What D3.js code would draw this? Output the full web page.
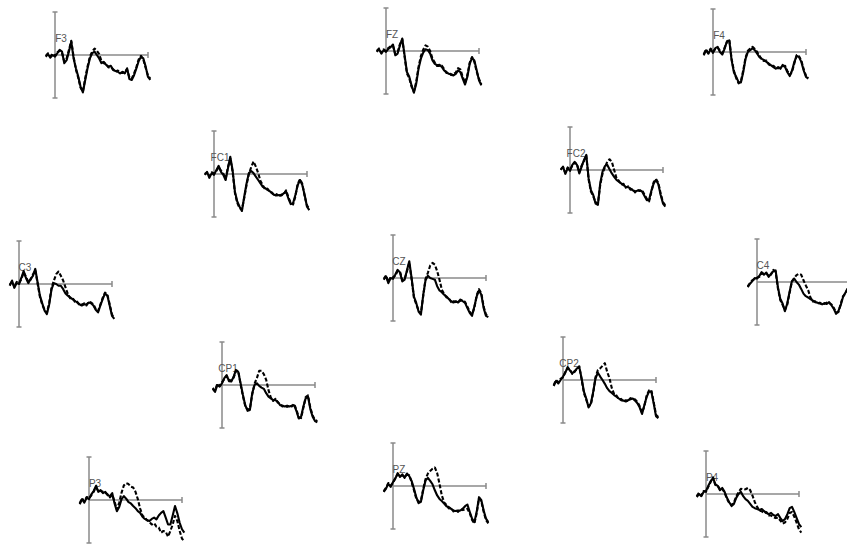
<!DOCTYPE html>
<html>
<head>
<meta charset="utf-8">
<script src="https://cdn.jsdelivr.net/npm/d3@7/dist/d3.min.js"></script>
<style>
  body { margin: 0; background: #fff; }
  svg { display: block; }
</style>
</head>
<body>
<svg id="chart" width="847" height="545"></svg>
<script>
// Thời điểm lấy mẫu (ms)
const times = [-100,-75,-50,-25,0,25,50,75,100,125,150,175,200,225,250,275,300,325,350,375,400,425,450,475,
  500,525,550,575,600,625,650,675,700,725,750,775,800,825,850,875,900,925,950,975,1000,1025];

const channels = ["F3","FZ","F4","FC1","FC2","C3","CZ","C4","CP1","CP2","P3","PZ","P4"];

// Biên độ (µV) - điều kiện 1 (nét liền)
const F3_a  = [-0.4,0.2,-0.6,0.0,-0.4,0.4,1.2,0.8,-1.9,-1.2,0.8,3.1,-0.8,-3.1,-5.0,-7.4,-8.7,-5.8,-3.1,-0.8,0.4,0.8,0.0,-0.8,-1.9,-1.6,-2.3,-2.7,-2.5,-3.5,-3.7,-3.9,-4.3,-3.9,-4.3,-3.1,-5.6,-5.8,-4.7,-3.1,-1.4,-0.4,-0.8,-2.7,-5.1,-5.8];
const FZ_a  = [-0.2,0.4,-0.6,0.2,-0.2,0.5,0.9,1.5,-1.0,-0.6,1.3,2.9,-1.0,-4.9,-6.0,-8.0,-9.7,-7.6,-4.1,-1.8,-0.4,0.4,0.2,-0.6,-2.2,-3.0,-3.3,-3.2,-3.7,-4.5,-4.9,-5.3,-5.4,-5.7,-5.3,-4.5,-4.9,-6.4,-7.8,-6.0,-3.0,-1.6,-2.2,-4.5,-6.8,-8.0];
const F4_a  = [-0.8,0.4,-0.4,0.6,-0.2,0.9,1.2,0.0,-0.6,0.8,2.5,2.7,-1.9,-4.7,-5.8,-7.0,-7.1,-4.7,-1.6,0.0,0.4,0.9,0.4,-0.4,-1.2,-1.6,-1.9,-2.3,-2.7,-3.1,-3.5,-3.9,-3.5,-3.9,-3.0,-3.5,-4.7,-5.6,-4.3,-2.3,-0.9,-1.2,-2.3,-4.3,-5.8,-6.2];
const FC1_a = [-0.2,0.5,-0.9,0.2,-0.2,0.9,1.9,0.5,-0.2,-1.4,1.3,4.0,0.9,-4.1,-6.4,-7.6,-8.6,-5.3,-2.2,0.2,0.7,0.2,-0.6,-1.4,-2.2,-3.0,-3.3,-3.7,-4.0,-4.5,-4.9,-5.0,-4.9,-5.0,-4.5,-4.1,-5.7,-7.0,-6.8,-4.9,-2.6,-1.4,-2.6,-4.9,-7.6,-8.4];
const FC2_a = [0.0,0.8,-0.9,0.4,-0.2,1.2,1.9,1.2,-0.8,0.8,2.3,3.5,-1.9,-4.7,-5.8,-7.8,-8.1,-3.1,-0.4,0.9,1.2,0.2,-0.8,-1.6,-2.3,-2.7,-3.1,-3.5,-3.9,-4.0,-4.3,-4.7,-5.0,-4.8,-4.7,-5.0,-6.0,-7.0,-7.0,-4.8,-3.1,-2.3,-3.3,-5.8,-7.8,-8.5];
const C3_a  = [-0.4,0.8,-0.9,0.2,0.0,1.4,3.0,1.4,0.2,1.2,1.9,3.5,0.4,-2.7,-4.5,-6.2,-7.0,-4.7,-1.2,0.2,0.0,-0.4,-0.4,-1.2,-2.2,-2.7,-3.1,-3.5,-3.9,-4.3,-4.7,-5.0,-4.7,-4.8,-4.3,-4.5,-5.0,-6.0,-6.6,-5.0,-3.5,-2.2,-2.7,-5.0,-7.4,-8.1];
const CZ_a  = [-0.4,0.4,-1.2,0.0,-0.2,0.8,1.9,1.3,-0.8,-0.4,1.8,3.9,0.0,-4.3,-5.8,-7.8,-8.5,-3.9,-0.5,0.5,0.0,-0.2,-0.4,-1.9,-2.9,-3.3,-3.9,-4.3,-4.9,-5.4,-5.7,-5.4,-5.7,-5.0,-5.4,-5.8,-7.0,-8.1,-8.8,-6.6,-4.3,-2.9,-3.9,-7.0,-8.8,-9.1];
const C4_a  = [-1.2,-0.4,0.2,0.9,0.8,1.4,2.3,1.7,2.2,1.2,1.9,2.5,2.7,-1.2,-3.9,-5.0,-6.8,-5.0,-2.3,0.2,0.8,0.0,-0.6,-1.6,-2.7,-3.3,-3.6,-4.0,-4.3,-4.7,-4.8,-5.0,-5.2,-4.9,-5.1,-4.7,-5.4,-6.2,-7.4,-6.8,-5.4,-3.5,-2.5,-1.6,-3.1,-5.0];
const CP1_a = [-0.9,-1.6,0.0,-0.4,0.4,1.6,2.3,0.9,0.8,1.9,3.5,3.0,0.4,-2.3,-4.7,-6.0,-5.8,-1.9,0.0,0.4,-0.2,-0.6,-0.9,-1.9,-2.7,-3.1,-3.5,-3.5,-3.9,-4.7,-4.8,-5.0,-4.8,-5.0,-4.8,-4.7,-6.0,-7.8,-7.4,-5.0,-3.1,-2.7,-5.6,-7.4,-8.4,-8.7];
const CP2_a = [-1.4,-0.2,-0.8,0.0,0.8,1.7,3.0,2.2,1.6,1.9,2.7,3.0,0.4,-2.7,-4.3,-6.4,-5.4,-2.7,0.4,1.7,0.8,0.0,-0.9,-1.9,-2.6,-3.0,-3.5,-3.9,-4.3,-4.7,-4.8,-5.0,-4.7,-4.5,-4.3,-4.8,-5.4,-6.4,-7.9,-5.8,-3.9,-2.7,-2.7,-5.4,-8.4,-8.9];
const P3_a  = [-1.0,0.2,-0.6,0.5,0.2,1.3,2.1,3.3,1.9,2.3,1.6,1.9,1.1,0.9,1.6,-0.8,-2.6,-1.6,0.2,0.9,0.3,-0.5,-0.8,-1.4,-1.9,-2.6,-3.0,-3.9,-4.4,-4.7,-4.9,-4.4,-4.1,-4.5,-3.6,-3.0,-2.6,-4.1,-5.7,-5.7,-3.6,-1.4,-3.1,-5.3,-6.8,-7.6];
const PZ_a  = [-1.4,-0.6,0.5,-0.2,0.9,1.7,3.0,2.1,2.7,1.9,2.9,2.3,1.2,-0.6,-2.6,-4.0,-3.7,-1.0,1.3,1.9,1.2,0.4,-1.0,-2.2,-3.0,-3.5,-4.1,-4.7,-4.9,-5.3,-5.7,-5.8,-5.7,-5.7,-5.3,-4.7,-4.3,-6.0,-7.6,-8.4,-6.0,-2.6,-3.3,-5.7,-7.6,-8.4];
const P4_a  = [-0.7,0.0,-0.5,0.5,0.7,1.9,3.0,3.7,2.3,1.9,0.9,1.4,0.5,-0.9,-1.9,-2.8,-2.3,-0.9,0.0,0.5,-0.5,-1.2,-1.6,-2.3,-3.0,-3.3,-3.5,-3.7,-3.5,-4.0,-4.4,-4.7,-4.4,-4.9,-5.1,-4.7,-5.6,-6.3,-5.8,-4.7,-3.3,-3.0,-4.2,-5.6,-7.0,-7.7];

// Biên độ (µV) - điều kiện 2 (nét đứt)
const F3_b  = [-0.2,0.4,-0.3,0.3,-0.2,0.6,1.0,0.5,-1.5,-0.8,1.2,3.3,-0.4,-3.4,-5.3,-7.6,-8.5,-5.4,-2.7,-0.4,0.8,1.5,1.0,0.2,-1.4,-1.9,-2.1,-2.9,-2.8,-3.3,-3.9,-3.6,-4.1,-4.2,-3.8,-3.4,-5.2,-5.5,-4.3,-2.8,-1.0,-0.2,-1.1,-3.0,-4.8,-5.5];
const FZ_b  = [0.0,0.6,-0.4,0.4,0.0,0.7,1.1,1.2,-0.7,-0.3,1.6,2.7,-1.3,-5.2,-6.3,-8.3,-9.4,-7.2,-3.7,-1.2,0.3,1.3,1.0,0.0,-1.8,-2.7,-3.5,-3.5,-3.4,-4.2,-5.1,-5.0,-5.6,-5.4,-5.0,-4.0,-4.3,-6.0,-7.4,-5.6,-2.7,-1.4,-2.5,-4.8,-6.5,-7.7];
const F4_b  = [-0.5,0.6,-0.2,0.8,0.1,0.7,1.0,0.3,-0.3,1.0,2.3,2.9,-1.6,-4.4,-6.1,-7.3,-6.8,-4.3,-1.3,0.3,0.8,1.2,0.7,0.0,-0.9,-1.8,-2.1,-2.0,-2.9,-3.3,-3.2,-3.7,-3.8,-3.6,-3.3,-3.2,-4.4,-5.3,-4.6,-2.6,-0.7,-1.0,-2.0,-4.0,-5.5,-6.0];
const FC1_b = [0.0,0.3,-0.6,0.4,0.1,0.7,1.6,0.8,0.1,-1.1,1.6,3.6,0.5,-4.4,-6.7,-7.9,-8.3,-5.6,-2.5,0.0,1.6,2.9,1.7,0.2,-1.6,-2.6,-3.6,-3.4,-4.2,-4.3,-5.1,-4.7,-5.2,-4.8,-4.7,-3.8,-5.4,-6.7,-7.1,-5.2,-2.3,-1.2,-2.3,-5.2,-7.3,-8.1];
const FC2_b = [0.2,0.6,-0.6,0.6,0.1,1.0,1.7,1.4,-0.5,1.0,2.1,3.3,-2.2,-5.0,-6.1,-7.5,-7.8,-3.5,-0.8,0.6,1.9,2.5,1.9,0.0,-1.9,-2.5,-3.4,-3.2,-4.1,-3.8,-4.6,-4.4,-5.2,-4.6,-4.9,-4.7,-5.7,-6.7,-7.3,-5.1,-2.8,-2.1,-3.0,-5.5,-7.5,-8.2];
const C3_b  = [-0.2,0.6,-0.6,0.5,0.2,1.1,2.7,1.7,0.5,1.0,2.2,3.2,0.1,-3.0,-4.8,-6.0,-6.7,-4.4,-0.9,0.8,2.3,2.9,1.9,0.8,-0.8,-2.3,-3.3,-3.2,-4.1,-4.1,-4.9,-4.8,-4.5,-5.0,-4.1,-4.3,-4.7,-5.8,-6.3,-4.8,-3.2,-2.0,-2.5,-4.7,-7.1,-7.8];
const CZ_b  = [-0.2,0.6,-0.9,0.3,0.1,0.6,1.6,1.5,-0.5,-0.2,1.5,3.6,-0.3,-4.6,-6.1,-7.5,-8.2,-4.2,-0.2,1.2,2.9,3.5,3.1,1.6,-0.4,-2.7,-3.7,-4.5,-4.7,-5.6,-5.4,-5.6,-5.5,-5.3,-5.1,-5.6,-6.7,-7.8,-8.5,-6.9,-4.0,-2.6,-3.6,-6.7,-8.5,-8.8];
const C4_b  = [-1.0,-0.2,0.4,0.7,1.0,1.2,2.1,1.9,2.0,1.4,1.7,2.8,2.4,-1.5,-4.2,-5.3,-6.5,-5.3,-2.6,0.0,0.9,1.6,1.9,1.7,0.4,-0.8,-1.9,-3.6,-4.5,-4.5,-5.0,-4.8,-5.0,-5.1,-4.8,-4.9,-5.2,-6.0,-7.1,-7.0,-5.1,-3.3,-2.7,-1.4,-2.8,-4.7];
const CP1_b = [-0.7,-1.3,0.3,-0.2,0.6,1.4,2.1,1.2,1.0,1.7,3.2,3.3,0.1,-2.6,-4.9,-5.7,-5.5,-2.2,0.3,1.6,3.3,3.3,2.5,1.2,-1.2,-2.9,-3.7,-3.2,-4.1,-4.4,-5.0,-4.7,-5.1,-4.8,-5.0,-4.4,-5.7,-7.5,-7.7,-5.3,-2.8,-2.4,-5.3,-7.1,-8.1,-8.4];
const CP2_b = [-1.2,0.0,-0.5,0.3,0.6,1.9,2.8,2.4,1.4,2.1,2.5,3.2,0.1,-3.0,-4.6,-6.1,-5.7,-3.0,0.7,2.3,2.7,3.3,3.9,1.9,0.4,-1.9,-3.3,-3.6,-4.5,-4.4,-5.0,-4.7,-4.9,-4.2,-4.5,-4.5,-5.1,-6.1,-7.6,-6.1,-3.6,-2.4,-2.4,-5.1,-8.1,-8.6];
const P3_b  = [-0.8,0.4,-0.3,0.7,0.4,1.1,1.9,3.0,2.1,2.1,1.9,1.7,1.3,0.6,1.2,-0.4,-2.2,-0.6,1.7,3.4,3.9,3.7,3.1,2.9,1.9,0.2,-2.0,-3.6,-4.1,-4.7,-5.1,-5.7,-5.4,-6.2,-6.4,-7.6,-7.2,-7.4,-8.5,-7.2,-5.7,-3.7,-4.9,-7.2,-9.0,-9.5];
const PZ_b  = [-1.2,-0.4,0.7,0.1,0.7,1.9,2.7,2.3,2.5,2.1,2.6,2.5,0.9,-0.9,-2.9,-3.7,-3.4,-0.7,1.6,2.9,3.5,4.0,4.3,3.0,0.5,-2.2,-3.8,-4.4,-5.2,-5.1,-5.9,-5.6,-6.0,-5.4,-5.6,-5.5,-5.3,-6.3,-7.9,-8.7,-6.3,-2.9,-3.6,-6.0,-7.9,-8.7];
const P4_b  = [-0.5,0.3,-0.3,0.7,0.5,1.7,2.8,3.9,2.1,2.0,1.1,1.2,0.3,-1.1,-2.1,-2.6,-2.0,-0.6,0.4,1.2,1.0,1.1,1.4,0.9,-0.4,-1.9,-3.0,-3.9,-4.0,-4.5,-4.2,-5.0,-5.0,-5.4,-5.6,-5.5,-6.2,-6.9,-6.6,-5.8,-4.4,-4.2,-5.3,-6.7,-8.2,-9.0];

const solid  = {F3:F3_a, FZ:FZ_a, F4:F4_a, FC1:FC1_a, FC2:FC2_a, C3:C3_a, CZ:CZ_a, C4:C4_a, CP1:CP1_a, CP2:CP2_a, P3:P3_a, PZ:PZ_a, P4:P4_a};
const dashed = {F3:F3_b, FZ:FZ_b, F4:F4_b, FC1:FC1_b, FC2:FC2_b, C3:C3_b, CZ:CZ_b, C4:C4_b, CP1:CP1_b, CP2:CP2_b, P3:P3_b, PZ:PZ_b, P4:P4_b};

// Vị trí gốc (0 ms, 0 µV) của từng ô trên trang
const layout = {
  F3:[55,55], FZ:[386,51], F4:[713,52],
  FC1:[214,174], FC2:[570,170],
  C3:[19,284], CZ:[393,278], C4:[757,282],
  CP1:[222,385], CP2:[563,380],
  P3:[89,500], PZ:[393,486], P4:[706,494]
};

const svg = d3.select("#chart");
svg.append("rect").attr("width", 847).attr("height", 545).attr("fill", "#fff");

// Thang đo chung cho mọi ô
const x = d3.scaleLinear().domain([0, 1000]).range([0, 93]);
const y = d3.scaleLinear().domain([-10, 10]).range([43, -43]);
const line = d3.line()
  .x((d, i) => x(times[i]))
  .y(d => y(d));

const axisColor = "#8a8a8a";

channels.forEach(ch => {
  const [ox, oy] = layout[ch];
  const g = svg.append("g").attr("transform", `translate(${ox},${oy})`);

  // Trục dọc + vạch hai đầu
  g.append("line")
    .attr("x1", 0).attr("x2", 0)
    .attr("y1", y(10)).attr("y2", y(-10))
    .attr("stroke", axisColor).attr("stroke-width", 1.5);
  [10, -10].forEach(v => {
    g.append("line")
      .attr("x1", -2.5).attr("x2", 2.5)
      .attr("y1", y(v)).attr("y2", y(v))
      .attr("stroke", axisColor).attr("stroke-width", 1.5);
  });

  // Trục ngang + vạch cuối
  g.append("line")
    .attr("x1", x(0)).attr("x2", x(1000))
    .attr("y1", y(0)).attr("y2", y(0))
    .attr("stroke", axisColor).attr("stroke-width", 1.5);
  g.append("line")
    .attr("x1", x(1000)).attr("x2", x(1000))
    .attr("y1", y(0) - 3).attr("y2", y(0) + 3)
    .attr("stroke", axisColor).attr("stroke-width", 1.5);

  // Tên kênh
  g.append("text")
    .attr("x", 6)
    .attr("y", -13)
    .attr("text-anchor", "middle")
    .style("font-family", "'Liberation Sans', Arial, sans-serif")
    .style("font-size", "10px")
    .style("fill", "#555")
    .text(ch);

  // Sóng ERP
  g.append("path")
    .attr("d", line(dashed[ch]))
    .attr("fill", "none")
    .attr("stroke", "#000")
    .attr("stroke-width", 2.1)
    .attr("stroke-dasharray", "4,2")
    .attr("stroke-linejoin", "round");

  g.append("path")
    .attr("d", line(solid[ch]))
    .attr("fill", "none")
    .attr("stroke", "#000")
    .attr("stroke-width", 2.1)
    .attr("stroke-linejoin", "round");
});
</script>
</body>
</html>
